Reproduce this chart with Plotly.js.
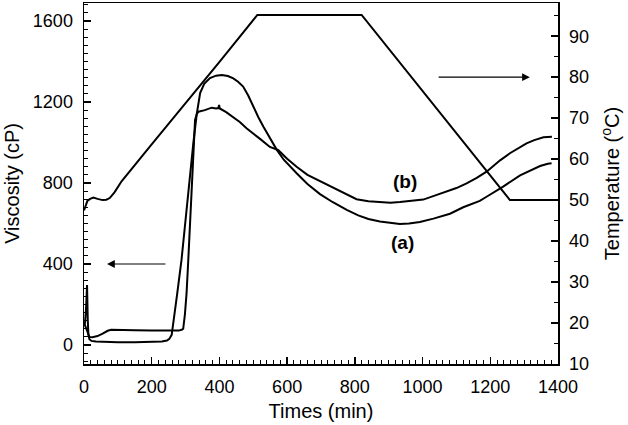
<!DOCTYPE html>
<html>
<head>
<meta charset="utf-8">
<script src="https://cdn.plot.ly/plotly-3.0.1.min.js"></script>
<style>html,body{margin:0;padding:0;background:#fff;}#chart{width:628px;height:425px;}</style>
</head>
<body>
<div id="chart"></div>
<script>
// Curve (a): viscosity (cP) vs time (min)
const timeA = [0,3,6,9,11,13,16,22,35,60,100,150,200,230,245,252,259,265,275,288,298,308,316,323,333,343,355,372,390,407,425,441,455,470,485,500,515,530,550,569,590,610,628,660,697,735,776,810,840,874,905,933,960,992,1032,1081,1120,1169,1189,1238,1288,1320,1347,1370,1381];
const viscA = [100,110,180,296,130,50,28,20,17,15,14,14,15,17,22,30,50,120,250,420,590,750,880,998,1140,1244,1290,1318,1330,1333,1328,1317,1300,1276,1232,1177,1125,1078,1020,965,915,878,848,795,745,705,667,640,622,610,603,598,600,607,624,648,680,712,732,782,838,865,884,895,898];
// Curve (b)
const timeB = [0,4,8,12,16,25,40,55,70,80,100,150,200,250,280,290,293,298,303,308,313,317,321,325,328,333,338,357,377,390,397,399,401,420,440,461,480,500,520,549,574,600,628,660,690,727,765,805,840,874,905,933,970,1002,1040,1071,1100,1130,1160,1189,1210,1229,1258,1280,1307,1330,1357,1382];
const viscB = [110,90,70,50,40,38,44,56,70,75,75,73,71,70,71,76,80,150,257,420,584,750,914,1030,1111,1140,1152,1160,1172,1168,1170,1185,1168,1150,1125,1100,1070,1045,1018,978,962,920,880,840,815,782,750,720,710,705,703,706,712,718,740,757,775,798,825,856,885,912,947,970,996,1012,1026,1028];
// Temperature profile (°C)
const timeT = [0,5,10,18,28,40,55,66,76,90,111,195,300,402,512,820,1258,1380];
const tempT = [47.5,48.5,49.8,50.3,50.6,50.3,50.0,50.1,50.5,51.9,54.6,63.1,73.6,83.9,95.2,95.2,50.0,50.0];
// Labels
const curveLabels = ['(a)','(b)'];
const labelPos = {a:[942,504], b:[948,805]};

const FONT = 'Liberation Sans, Arial, Helvetica, sans-serif';
const lineStyle = {color:'black', width:2};

const traces = [
  {x: timeA, y: viscA, mode:'lines', line: lineStyle, yaxis:'y', name:'(a)'},
  {x: timeB, y: viscB, mode:'lines', line: lineStyle, yaxis:'y', name:'(b)'},
  {x: timeT, y: tempT, mode:'lines', line: lineStyle, yaxis:'y2', name:'Temperature'}
];

const axisCommon = {
  showline:true, linecolor:'black', linewidth:1.5,
  ticks:'inside', ticklen:7, tickwidth:1.5, tickcolor:'black',
  showgrid:false, zeroline:false,
  tickfont:{family:FONT, size:18, color:'black'},
  ticklabelstandoff: 6
};

const layout = {
  width:628, height:425,
  margin:{l:84, r:70, t:3, b:61},
  paper_bgcolor:'white', plot_bgcolor:'white',
  showlegend:false,
  font:{family:FONT, color:'black'},
  xaxis: Object.assign({}, axisCommon, {
    range:[0,1400], tick0:0, dtick:200, mirror:true,
    minor:{dtick:20, ticks:'inside', ticklen:4, tickwidth:1, tickcolor:'black', showgrid:false},
    title:{text:'Times (min)', font:{family:FONT, size:20, color:'black'}, standoff:8}
  }),
  yaxis: Object.assign({}, axisCommon, {
    range:[-94,1689], tick0:0, dtick:400, mirror:true,
    minor:{dtick:40, ticks:'inside', ticklen:4, tickwidth:1, tickcolor:'black', showgrid:false},
    title:{text:'Viscosity (cP)', font:{family:FONT, size:20, color:'black'}, standoff:8}
  }),
  yaxis2: Object.assign({}, axisCommon, {
    overlaying:'y', side:'right',
    range:[10,98.1], tick0:10, dtick:10,
    minor:{dtick:5, ticks:'inside', ticklen:4, tickwidth:1, tickcolor:'black', showgrid:false},
    title:{text:'Temperature (<sup>o</sup>C)', font:{family:FONT, size:20, color:'black'}, standoff:17}
  }),
  annotations: [
    {x:labelPos.a[0], y:labelPos.a[1], xref:'x', yref:'y', text:'<b>'+curveLabels[0]+'</b>', showarrow:false, font:{family:FONT, size:19, color:'black'}},
    {x:labelPos.b[0], y:labelPos.b[1], xref:'x', yref:'y', text:'<b>'+curveLabels[1]+'</b>', showarrow:false, font:{family:FONT, size:19, color:'black'}},
    {x:68, y:400, xref:'x', yref:'y', ax:245, ay:400, axref:'x', ayref:'y', text:'', showarrow:true, arrowhead:2, arrowsize:1.3, arrowwidth:1.2, arrowcolor:'black'},
    {x:1317, y:80, xref:'x', yref:'y2', ax:1043, ay:80, axref:'x', ayref:'y2', text:'', showarrow:true, arrowhead:2, arrowsize:1.3, arrowwidth:1.2, arrowcolor:'black'}
  ]
};

Plotly.newPlot('chart', traces, layout, {displayModeBar:false, staticPlot:true});
</script>
</body>
</html>
